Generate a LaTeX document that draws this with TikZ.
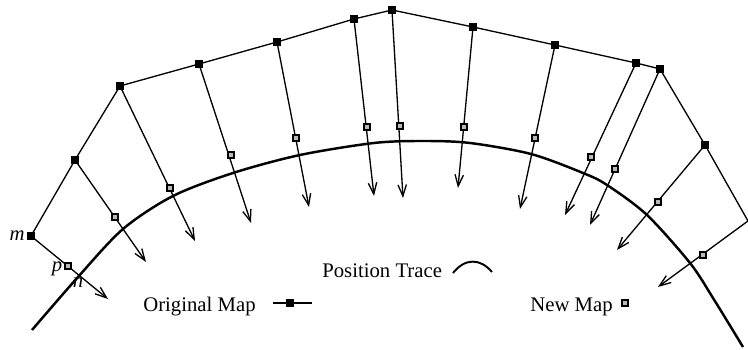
\documentclass[tikz,border=0pt]{standalone}
\usepackage{fontspec}
\setmainfont{Liberation Serif}
\usepackage{tikz}
\usetikzlibrary{arrows.meta, positioning}
\tikzset{
  mapline/.style={line width=0.75pt},
  shiftarrow/.style={line width=0.75pt, -{Straight Barb[length=6.5pt,width=4.8pt]}},
  trace/.style={line width=1.4pt},
  origsq/.style={draw=black, fill=black, minimum size=3.8pt, inner sep=0pt},
  newsq/.style={draw=black, fill=gray!55, line width=0.75pt, minimum size=3.5pt, inner sep=0pt},
  lbl/.style={inner sep=0pt, font=\fontsize{11.8}{14}\selectfont},
  letter/.style={inner sep=0pt, font=\fontsize{11.8}{14}\selectfont\itshape}
}

\begin{document}
\begin{tikzpicture}[x=0.02cm, y=-0.02cm]
  \useasboundingbox (0,0) rectangle (748,350);
  \foreach \i/\ox/\oy/\nx/\ny/\tx/\ty in {
      1/31/236/68/266/108/299, 2/75/160/115/217/146/262, 3/120/86/170/188/195/241,
      4/199/64/231/155/251/223, 5/277/42/296/138/309/207, 6/354/19/367/127/374/196,
      7/392/10/400/126/403/198, 8/473/27/464/127/458/188, 9/555/45/535/138/520/209,
      10/636/63/591/157/565/215, 11/660/69/615/169/590/225, 12/705/145/658/202/617/250,
      13/748/221/703/255/658/287} {
    \coordinate (o\i) at (\ox,\oy);
    \coordinate (n\i) at (\nx,\ny);
    \coordinate (t\i) at (\tx,\ty);
  }
  \draw[trace] plot[smooth] coordinates {(32,330) (78,277) (123,229) (173,196) (233,173)
    (300,155) (374,143) (424,141) (470,143) (531,154) (583,173) (607,185) (647,215)
    (690,263) (713,298) (743,347)};
  \draw[mapline] (o1) \foreach \i in {2,...,13} {-- (o\i)};
  \foreach \i in {1,...,13} \draw[shiftarrow] (o\i) -- (t\i);
  \foreach \i in {1,...,12} \node[origsq] (O\i) at (o\i) {};
  \foreach \i in {1,...,13} \node[newsq] (N\i) at (n\i) {};
  \node[letter, anchor=base] (m) at (17,241) {m};
  \node[letter, anchor=base] (p) at (57,272) {p};
  \node[letter, anchor=base] (n) at (78,288) {n};
  \node[lbl, anchor=base west] (origtxt) at (143,312) {Original Map};
  \coordinate (ol) at (273,303);
  \coordinate (or) at (312,303);
  \draw[mapline] (ol) -- (or);
  \node[origsq] (origkey) at (290,303) {};
  \node[lbl, anchor=base west] (tracetxt) at (322,278) {Position Trace};
  \coordinate (ta) at (453,273);
  \coordinate (tb) at (492,272);
  \draw[mapline, line width=1.1pt] (ta) .. controls (465,258) and (480,258) .. (tb);
  \node[lbl, anchor=base west] (newtxt) at (530,312) {New Map};
  \node[newsq] (newkey) at (625,303) {};
\end{tikzpicture}
\end{document}
